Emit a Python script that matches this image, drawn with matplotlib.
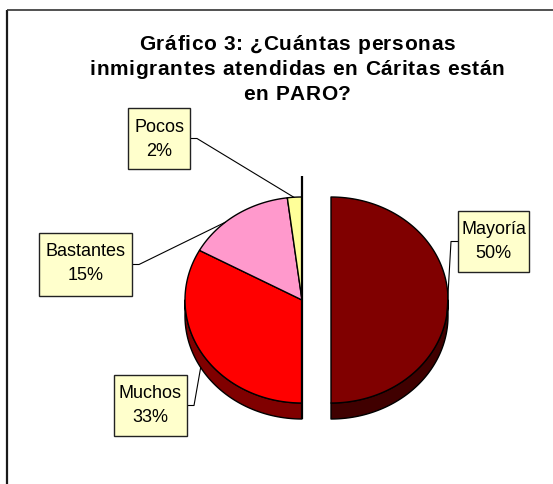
import numpy as np
import matplotlib
matplotlib.use("Agg")
import matplotlib.pyplot as plt
from matplotlib.patches import Polygon, Rectangle
from matplotlib.font_manager import FontProperties, findfont, get_font

# ---- data ----
categories = ["Mayoría", "Muchos", "Bastantes", "Pocos"]
values = [50, 33, 15, 2]
pct_labels = ["50%", "33%", "15%", "2%"]
title_lines = ["Gráfico 3: ¿Cuántas personas",
               "inmigrantes atendidas en Cáritas están",
               "en PARO?"]

# ---- style / layout ----
top_colors = ["#800000", "#FF0000", "#FF99CC", "#FFFF99"]
side_colors = ["#400000", "#800000", "#804C66", "#80804C"]
explode_px = [29, 0, 0, 0]
W, H, DPI = 553, 484, 100
cx, cy, rx, ry, depth = 302.0, 300.0, 117.0, 103.0, 16.0
FAM = "Liberation Sans"

fig = plt.figure(figsize=(W / DPI, H / DPI), dpi=DPI)
fig.patch.set_facecolor("white")
ax = fig.add_axes([0, 0, 1, 1])
ax.set_xlim(0, W)
ax.set_ylim(H, 0)
ax.axis("off")

# frame (chart area border, partially visible)
ax.plot([7, 7], [10, H + 5], color="#1a1a1a", lw=1.6, solid_capstyle="butt")
ax.plot([7, W + 5], [10, 10], color="#333333", lw=1.2, solid_capstyle="butt")

# ---- pie geometry from values ----
total = float(sum(values))
cum = np.concatenate([[0], np.cumsum(values)])
t_start = 90 - 360 * cum[:-1] / total
t_end = 90 - 360 * cum[1:] / total


def ell(t_deg, ox, oy, dz=0.0):
    t = np.radians(t_deg)
    return np.column_stack([ox + rx * np.cos(t), oy - ry * np.sin(t) + dz])


offsets = []
for i in range(len(values)):
    mid = np.radians((t_start[i] + t_end[i]) / 2)
    offsets.append((cx + explode_px[i] * np.cos(mid), cy - explode_px[i] * np.sin(mid)))

# sides (front visible portion)
for i in range(len(values)):
    ox, oy = offsets[i]
    for k in (-1, 0, 1):
        lo = max(t_end[i], -180 + 360 * k)
        hi = min(t_start[i], 0 + 360 * k)
        if hi > lo:
            ts = np.linspace(hi, lo, 120)
            top = ell(ts, ox, oy)
            bot = ell(ts[::-1], ox, oy, depth)
            poly = Polygon(np.vstack([top, bot]), closed=True, facecolor=side_colors[i],
                           edgecolor="black", lw=1.0, joinstyle="round")
            ax.add_patch(poly)

# top faces
for i in range(len(values)):
    ox, oy = offsets[i]
    ts = np.linspace(t_start[i], t_end[i], 200)
    pts = np.vstack([[ox, oy], ell(ts, ox, oy)])
    ax.add_patch(Polygon(pts, closed=True, facecolor=top_colors[i], edgecolor="black",
                         lw=1.0, joinstyle="round"))

# edge-on cut face line of the unexploded part
ax.plot([cx, cx], [cy - ry - 21, cy + ry + depth], color="black", lw=1.6,
        solid_capstyle="butt")

# ---- labels ----
label_boxes = {  # left, top, width, height (pixels)
    "Mayoría": (458, 211, 71, 61),
    "Muchos": (114, 375, 73, 61),
    "Bastantes": (39, 233, 93, 63),
    "Pocos": (128, 108, 62, 61),
}
anchor_angles = {"Mayoría": -8, "Muchos": -150, "Bastantes": 131, "Pocos": 94}
anchor_depth = {"Mayoría": 0, "Muchos": depth, "Bastantes": 0, "Pocos": 0}

for i, name in enumerate(categories):
    L, T, bw, bh = label_boxes[name]
    ox, oy = offsets[i]
    ap = ell(np.array([anchor_angles[name]]), ox, oy, anchor_depth[name])[0]
    ymid = T + bh * 0.5
    if ap[0] > L + bw:  # box left of anchor
        x0 = L + bw
        elbow = (x0 + 7, ymid)
    else:
        x0 = L
        elbow = (x0 - 7, ymid)
    ax.plot([x0, elbow[0], ap[0]], [ymid, elbow[1], ap[1]], color="black", lw=0.8,
            zorder=3)
    ax.add_patch(Rectangle((L, T), bw, bh, facecolor="#FFFFCC", edgecolor="#222222",
                           lw=1.0, zorder=4))
    ax.text(L + bw / 2, T + 19, name, ha="center", va="center", fontsize=13,
            family=FAM, color="black", zorder=5)
    ax.text(L + bw / 2, T + 43, pct_labels[i], ha="center", va="center", fontsize=13,
            family=FAM, color="black", zorder=5)


# ---- title with letter spacing ----
def spaced_text(s, xc, yb, size, spacing):
    prop = FontProperties(family=FAM, size=size, weight="bold")
    font = get_font(findfont(prop))
    font.set_size(size, DPI)
    advs = [font.load_char(ord(c)).linearHoriAdvance / 65536 for c in s]
    tot = sum(advs) + spacing * (len(s) - 1)
    x = xc - tot / 2
    for c, a in zip(s, advs):
        ax.text(x, yb, c, fontproperties=prop, ha="left", va="baseline", color="black")
        x += a + spacing


title_baselines = [49.5, 75, 100.5]
for line, yb in zip(title_lines, title_baselines):
    spaced_text(line, 297, yb, 15, 0.7)

fig.savefig("out.png", dpi=DPI, facecolor="white")
